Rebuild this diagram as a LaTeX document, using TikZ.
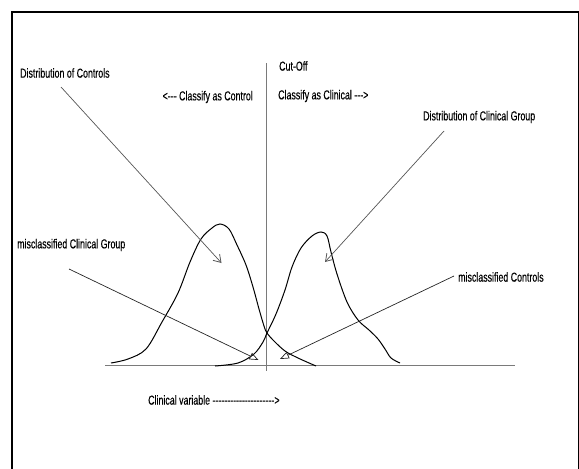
\documentclass[tikz,border=0pt]{standalone}
\usepackage{fontspec}
\usetikzlibrary{arrows.meta,positioning,calc}
\newfontfamily\narrowsans[FakeStretch=0.68,FakeBold=0.3]{Liberation Sans}
\definecolor{axisGray}{HTML}{7A7A7A}
\definecolor{arrowGray}{HTML}{555555}

\begin{document}
\begin{tikzpicture}[
    x=1pt, y=-1pt,
    >=Stealth,
    frame/.style={line width=2pt, black},
    axis/.style={line width=1.8pt, axisGray},
    density/.style={line width=1pt, black, smooth, tension=0.55},
    pointer/.style={arrowGray, line width=0.7pt,
                    -{Straight Barb[length=7pt,width=9pt,line width=0.8pt]}},
    misarrow/.style={black!85, line width=0.7pt,
                    -{Triangle[open,length=9pt,width=7pt,line width=0.7pt]}},
    lbl/.style={font=\narrowsans\fontsize{13}{15}\selectfont,
                inner sep=0pt, anchor=west},
]
\useasboundingbox (0,0) rectangle (579,469);

%-----------------------------------------------------------------------
% outer frame (open at the bottom)
\draw[frame] (12,470) -- (12,12) -- (578.5,12) -- (578.5,470);

%-----------------------------------------------------------------------
% axis and cut-off line
\coordinate (axL) at (105,365.5);
\coordinate (axR) at (515,365.5);
\coordinate (cutTop) at (266.5,63);
\coordinate (cutBot) at (266.5,371);
\draw[axis] (axL) -- (axR);
\draw[axis] (cutTop) -- (cutBot);

%-----------------------------------------------------------------------
% the two distributions
\draw[density] plot coordinates {
  (111,363) (128,359) (146,349) (162,322) (178,293) (190,262)
  (201,239) (212,228) (220,224) (229,229) (237,245) (246,265)
  (253,287) (259,309) (264,326) (267,333) (274,341) (285,351)
  (298,358) (316,366)};
\draw[density] plot coordinates {
  (215,366) (238,363) (254,354) (263,342) (267,333) (276,314)
  (285,290) (292,267) (301,248) (312,236) (321,232) (327,236)
  (331,252) (337,274) (347,302) (358,320) (369,330) (378,339)
  (385,349) (391,358) (400,363)};

%-----------------------------------------------------------------------
% labels
\node[lbl] (cutoff) at (279,66) {Cut-Off};
\node[lbl, anchor=east] (toControl) at (253,97) {<-{}-{}- Classify as Control};
\node[lbl] (toClinical) at (278,96) {Classify as Clinical -{}-{}->};
\node[lbl] (ctrlDist) at (20,73) {Distribution of Controls};
\node[lbl] (clinDist) at (423,117) {Distribution of Clinical Group};
\node[lbl] (misClin) at (17,245) {misclassified Clinical Group};
\node[lbl] (misCtrl) at (458,277) {misclassified Controls};
\node[lbl] (xvar) at (148,400)
  {Clinical variable -{}-{}-{}-{}-{}-{}-{}-{}-{}-{}-{}-{}-{}-{}-{}-{}-{}-{}-{}-{}->};

%-----------------------------------------------------------------------
% pointers from the labels
\coordinate (ctrlFrom) at (61,87);    % below Distribution of Controls
\coordinate (ctrlTip)  at (221.5,263);
\coordinate (clinFrom) at (444,131);  % below Distribution of Clinical Group
\coordinate (clinTip)  at (325,262);
\coordinate (misClinFrom) at (69,269);
\coordinate (misClinTip)  at (258.5,360);
\coordinate (misCtrlFrom) at (454,276);
\coordinate (misCtrlTip)  at (280,359);

\draw[pointer] (ctrlFrom) -- (ctrlTip);
\draw[pointer] (clinFrom) -- (clinTip);
\draw[misarrow] (misClinFrom) -- (misClinTip);
\draw[misarrow] (misCtrlFrom) -- (misCtrlTip);

\end{tikzpicture}
\end{document}
